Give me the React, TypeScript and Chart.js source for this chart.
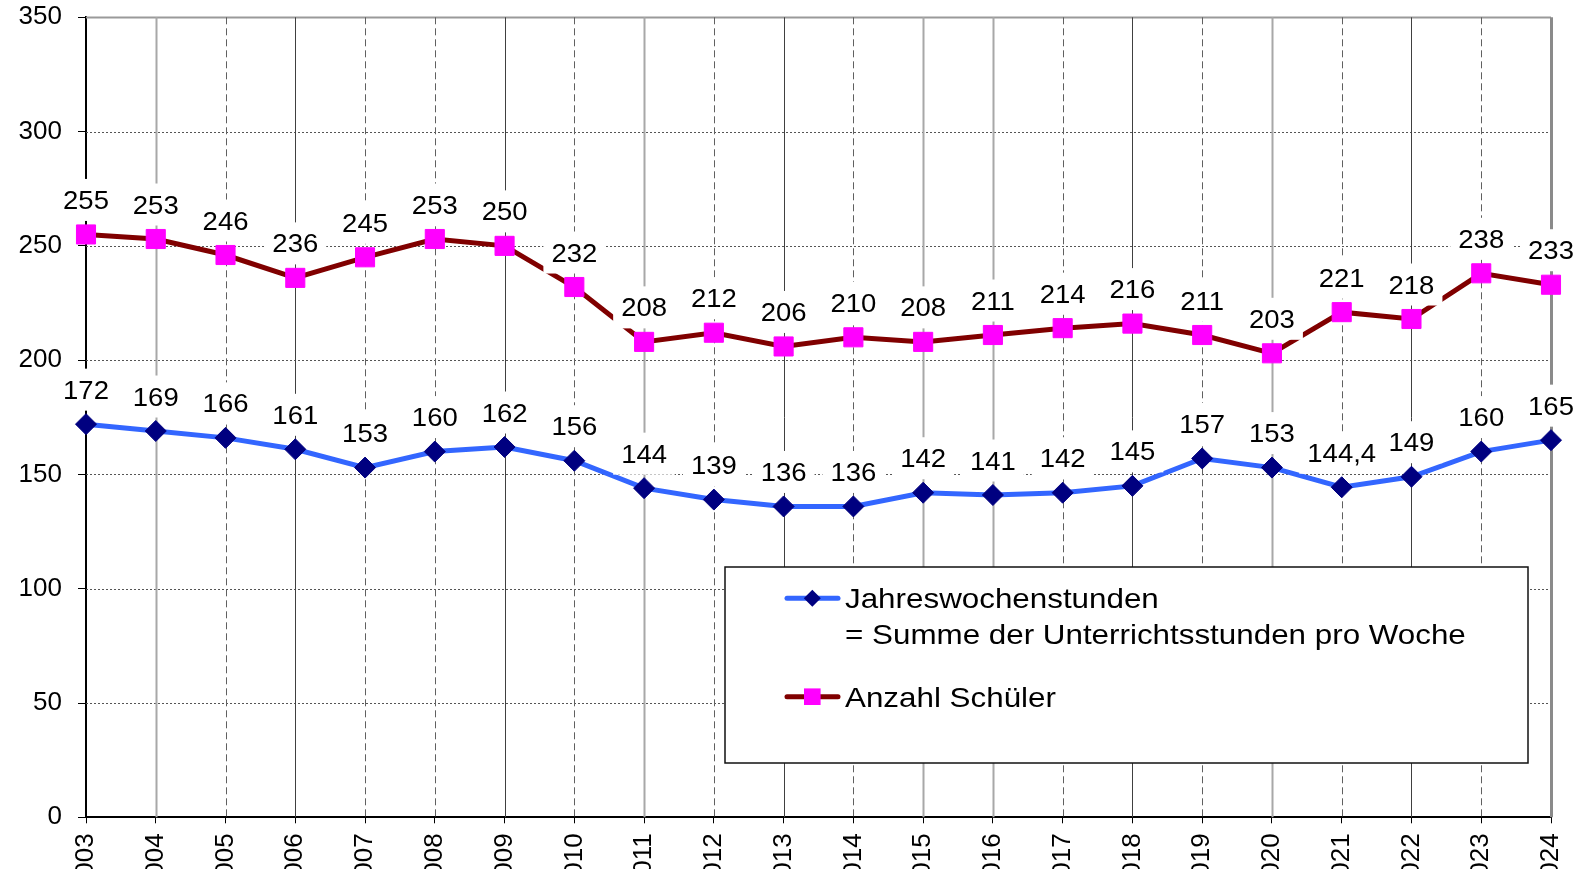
import React, { useEffect, useRef } from "react";
import { Chart, registerables } from "chart.js";

Chart.register(...registerables);

// ---------- data ----------
const years = [
  "2003", "2004", "2005", "2006", "2007", "2008", "2009", "2010", "2011", "2012", "2013",
  "2014", "2015", "2016", "2017", "2018", "2019", "2020", "2021", "2022", "2023", "2024",
];
const jahreswochenstunden = [
  172, 169, 166, 161, 153, 160, 162, 156, 144, 139, 136,
  136, 142, 141, 142, 145, 157, 153, 144.4, 149, 160, 165,
];
const anzahlSchueler = [
  255, 253, 246, 236, 245, 253, 250, 232, 208, 212, 206,
  210, 208, 211, 214, 216, 211, 203, 221, 218, 238, 233,
];
const yMin = 0;
const yMax = 350;
const yStep = 50;
const legendStunden = ["Jahreswochenstunden", "= Summe der Unterrichtsstunden pro Woche"];
const legendSchueler = ["Anzahl Schüler"];

// vertical grid line look per category (style only)
const vGridStyles = [
  "none", "light", "dashed", "dark", "dashed", "dashed", "dark", "dashed", "light", "dashed", "dark",
  "dashed", "light", "light", "dashed", "dark", "dashed", "light", "dashed", "dark", "dashed", "border",
];

// ---------- style ----------
const FONT = '"Liberation Sans", Arial, Helvetica, sans-serif';
const STRETCH = 1.1;
const W = 1583;
const H = 900;

const fmt = (v: number) => String(v).replace(".", ",");

function stretchedText(ctx: CanvasRenderingContext2D, text: string, x: number, y: number, size: number, align: CanvasTextAlign, sx = STRETCH) {
  ctx.save();
  ctx.font = `${size}px ${FONT}`;
  ctx.textAlign = align;
  ctx.textBaseline = "alphabetic";
  ctx.fillStyle = "#000";
  ctx.translate(x, y);
  ctx.scale(sx, 1);
  ctx.fillText(text, 0, 0);
  ctx.restore();
}

const gridPlugin = {
  id: "customGrid",
  beforeDatasetsDraw(chart: any) {
    const { ctx, chartArea: a } = chart;
    const xs = chart.scales.x;
    const ys = chart.scales.y;
    ctx.save();
    ys.ticks.forEach((t: any) => {
      const v = t.value;
      if (v === ys.min) return;
      const py = Math.round(ys.getPixelForValue(v)) + 0.5;
      ctx.beginPath();
      if (v === ys.max) {
        ctx.setLineDash([]);
        ctx.strokeStyle = "#9a9a9a";
        ctx.lineWidth = 2;
      } else {
        ctx.setLineDash([2, 2]);
        ctx.strokeStyle = "#555";
        ctx.lineWidth = 1;
      }
      ctx.moveTo(a.left, py);
      ctx.lineTo(a.right, py);
      ctx.stroke();
    });
    xs.ticks.forEach((_t: any, i: number) => {
      const st = vGridStyles[i];
      if (!st || st === "none") return;
      const px = Math.round(xs.getPixelForTick(i)) + 0.5;
      ctx.beginPath();
      ctx.setLineDash([]);
      if (st === "light") {
        ctx.strokeStyle = "#a8a8a8";
        ctx.lineWidth = 2;
      } else if (st === "dark") {
        ctx.strokeStyle = "#404040";
        ctx.lineWidth = 1;
      } else if (st === "dashed") {
        ctx.strokeStyle = "#606060";
        ctx.lineWidth = 1;
        ctx.setLineDash([7, 4]);
      } else if (st === "border") {
        ctx.strokeStyle = "#8a8a8a";
        ctx.lineWidth = 3;
      }
      ctx.moveTo(px, a.top);
      ctx.lineTo(px, a.bottom);
      ctx.stroke();
    });
    ctx.restore();
  },
};

const labelPlugin = {
  id: "valueLabels",
  afterDatasetsDraw(chart: any) {
    const { ctx } = chart;
    chart.data.datasets.forEach((ds: any, di: number) => {
      const meta = chart.getDatasetMeta(di);
      meta.data.forEach((pt: any, i: number) => {
        const text = fmt(ds.data[i]);
        ctx.save();
        ctx.font = `25px ${FONT}`;
        const w = ctx.measureText(text).width * STRETCH;
        const cx = pt.x;
        const cy = pt.y - 34.5;
        ctx.fillStyle = "#fff";
        ctx.fillRect(cx - w / 2 - 8, cy - 21, w + 16, 42);
        ctx.restore();
        stretchedText(ctx, text, cx, cy + 9, 25, "center");
      });
    });
  },
};

const legendPlugin = {
  id: "boxLegend",
  afterDraw(chart: any) {
    const { ctx } = chart;
    const bx = 725, by = 567, bw = 803, bh = 196;
    ctx.save();
    ctx.fillStyle = "#fff";
    ctx.fillRect(bx, by, bw, bh);
    ctx.strokeStyle = "#111";
    ctx.lineWidth = 1.5;
    ctx.strokeRect(bx, by, bw, bh);

    const items = [
      { ds: chart.data.datasets[0], lines: legendStunden, y: 598.3, shape: "diamond" },
      { ds: chart.data.datasets[1], lines: legendSchueler, y: 696.7, shape: "square" },
    ];
    items.forEach((it) => {
      ctx.beginPath();
      ctx.strokeStyle = it.ds.borderColor;
      ctx.lineWidth = 5;
      ctx.lineCap = "round";
      ctx.moveTo(787, it.y);
      ctx.lineTo(838, it.y);
      ctx.stroke();
      const mx = 812.3;
      ctx.fillStyle = it.ds.pointBackgroundColor;
      ctx.beginPath();
      if (it.shape === "diamond") {
        const r = 8.5;
        ctx.moveTo(mx - r, it.y);
        ctx.lineTo(mx, it.y - r);
        ctx.lineTo(mx + r, it.y);
        ctx.lineTo(mx, it.y + r);
        ctx.closePath();
      } else {
        const s = 8.3;
        ctx.rect(mx - s, it.y - s, 2 * s, 2 * s);
      }
      ctx.fill();
      it.lines.forEach((line: string, li: number) => {
        stretchedText(ctx, line, 845, it.y + 10 + li * 36, 28, "left", 1.12);
      });
    });
    ctx.restore();
  },
};

export default function App() {
  const ref = useRef<HTMLCanvasElement | null>(null);

  useEffect(() => {
    if (!ref.current) return;
    const chart = new Chart(ref.current, {
      type: "line",
      data: {
        labels: years,
        datasets: [
          {
            label: legendStunden.join(" "),
            data: jahreswochenstunden,
            borderColor: "#3366ff",
            borderWidth: 5,
            pointStyle: "rectRot",
            pointRadius: 10.5,
            pointBackgroundColor: "#000080",
            pointBorderColor: "#000080",
            pointBorderWidth: 1,
            tension: 0,
          },
          {
            label: legendSchueler[0],
            data: anzahlSchueler,
            borderColor: "#800000",
            borderWidth: 5,
            pointStyle: "rect",
            pointRadius: 13.5,
            pointBackgroundColor: "#ff00ff",
            pointBorderColor: "#ff00ff",
            pointBorderWidth: 1,
            tension: 0,
          },
        ],
      },
      options: {
        responsive: false,
        devicePixelRatio: 1,
        animation: false,
        layout: { padding: { top: 17.3, right: 32, left: 0, bottom: 0 } },
        plugins: {
          legend: { display: false },
          tooltip: { enabled: false },
        },
        scales: {
          x: {
            type: "category",
            offset: false,
            grid: { drawOnChartArea: false, drawTicks: true, tickLength: 6, tickColor: "#000", tickWidth: 1 },
            border: { display: true, color: "#000", width: 2 },
            ticks: {
              autoSkip: false,
              minRotation: 90,
              maxRotation: 90,
              padding: 10,
              color: "#000",
              font: { family: FONT, size: 26 },
            },
            afterFit: (s: any) => {
              s.height = H - 817.3;
              s.paddingLeft = 0;
              s.paddingRight = 0;
            },
          },
          y: {
            min: yMin,
            max: yMax,
            ticks: { stepSize: yStep, padding: 16, color: "#000", font: { family: FONT, size: 26 } },
            grid: { drawOnChartArea: false, drawTicks: true, tickLength: 8, tickColor: "#000", tickWidth: 1 },
            border: { display: true, color: "#000", width: 2 },
            afterFit: (s: any) => {
              s.width = 86;
              s.paddingTop = 0;
              s.paddingBottom = 0;
            },
          },
        },
      } as any,
      plugins: [gridPlugin, labelPlugin, legendPlugin],
    });
    return () => chart.destroy();
  }, []);

  return (
    <div
      style={{
        position: "fixed",
        left: 0,
        top: 0,
        width: W,
        height: 869,
        overflow: "hidden",
        background: "#fff",
      }}
    >
      <canvas ref={ref} width={W} height={H} style={{ display: "block" }} />
    </div>
  );
}
